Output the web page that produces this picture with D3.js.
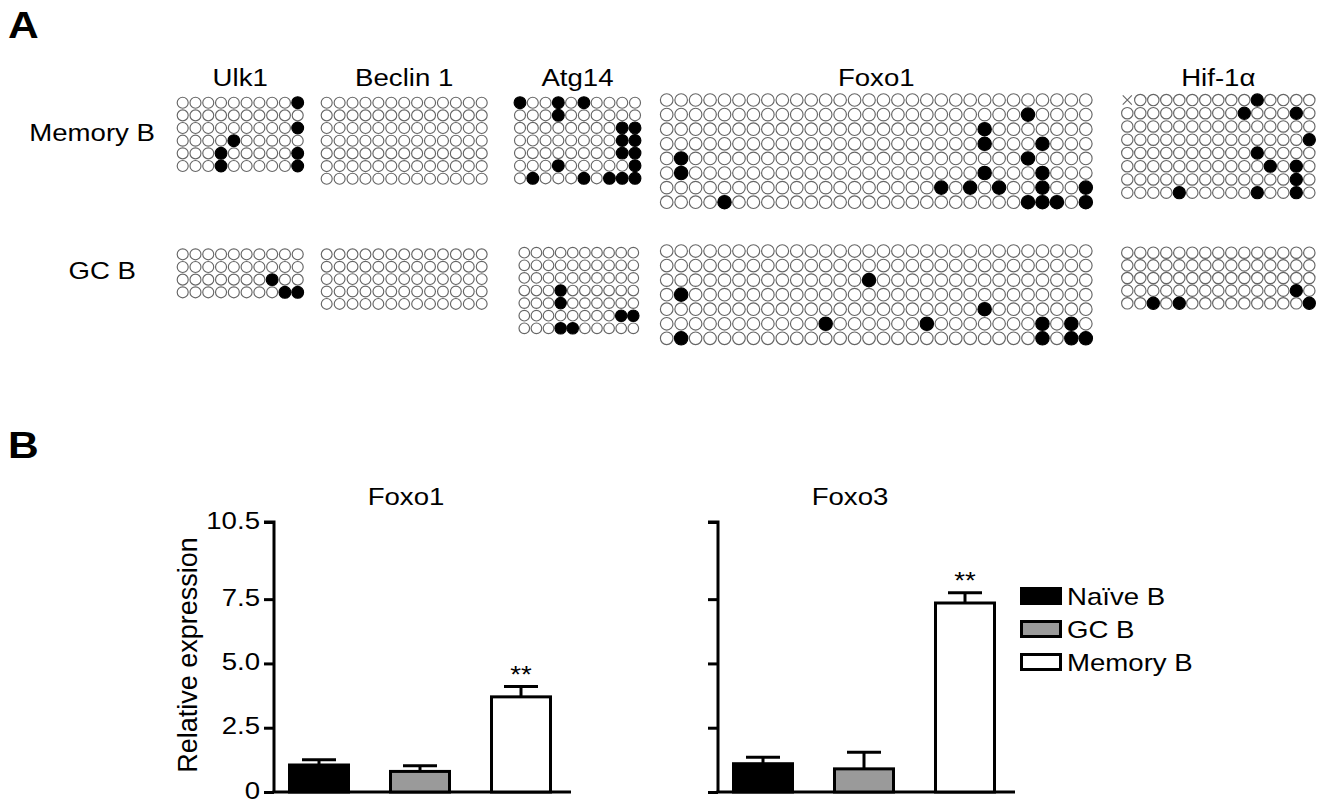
<!DOCTYPE html>
<html><head><meta charset="utf-8">
<script src="https://cdn.jsdelivr.net/npm/d3@7"></script>
<style>body{margin:0;background:#fff}svg{display:block}text{font-family:"Liberation Sans",Arial,sans-serif;fill:#000}</style>
</head><body><svg id="fig" width="1327" height="802"></svg>
<script>
// ---------- Panel A data: methylated CpG (filled) columns per clone row ----------
const genes = ["Ulk1", "Beclin 1", "Atg14", "Foxo1", "Hif-1\u03b1"];
const geneColumns = [10, 13, 10, 30, 15];
const ulk1Memory   = [[10],[],[10],[5],[4,10],[4,10]];
const beclinMemory = [[],[],[],[],[],[],[]];
const atg14Memory  = [[1,4,6],[4],[9,10],[9,10],[9,10],[4,10],[2,6,8,9,10]];
const foxo1Memory  = [[],[26],[23],[23,27],[2,26],[2,23,27],[20,22,24,27,30],[5,26,27,28,30]];
const hifMemory    = [[11],[10,14],[],[15],[11],[12,14],[14],[5,11,14]];
const hifMemoryMissing = [[1,1]]; // [row, col] shown as a cross
const ulk1GC   = [[],[],[8],[9,10]];
const beclinGC = [[],[],[],[],[]];
const atg14GC  = [[],[],[],[4],[4],[9,10],[4,5]];
const foxo1GC  = [[],[],[15],[2],[23],[12,19,27,29],[2,27,29,30]];
const hifGC    = [[],[],[],[14],[3,5,15]];
const rowLabels = ["Memory B", "GC B"];

// ---------- Panel B data ----------
const cellTypes = ["Na\u00efve B", "GC B", "Memory B"];
const foxo1Values = [1.05, 0.8, 3.7];
const foxo1Errors = [0.2, 0.22, 0.4];
const foxo3Values = [1.1, 0.9, 7.35];
const foxo3Errors = [0.25, 0.65, 0.4];
const yTickValues = [0, 2.5, 5.0, 7.5, 10.5];
const yTickLabels = ["0", "2.5", "5.0", "7.5", "10.5"];

// ---------- layout ----------
const svg = d3.select("#fig");
svg.append("rect").attr("width",1327).attr("height",802).attr("fill","#fff");
const SX = 1.15; // the original figure's lettering is horizontally widened

function addText(x, y, str, size, anchor, weight) {
  return svg.append("text")
    .attr("transform", `translate(${x},${y}) scale(${SX},1)`)
    .attr("text-anchor", anchor || "start")
    .attr("font-size", size)
    .attr("font-weight", weight || "normal")
    .text(str);
}

const gridLayout = [
  {g:0, data:ulk1Memory,   x:[182.7,297.7], y0:102.7, dy:12.66, r:5.5},
  {g:1, data:beclinMemory, x:[326.7,481.7], y0:102.7, dy:12.67, r:5.5},
  {g:2, data:atg14Memory,  x:[520,635],     y0:102.7, dy:12.6,  r:5.5},
  {g:3, data:foxo1Memory,  x:[666.7,1085.8],y0:100,   dy:14.6,  r:6.3},
  {g:4, data:hifMemory,    x:[1127.3,1309.3],y0:100,  dy:13.24, r:5.7, missing:hifMemoryMissing},
  {g:0, data:ulk1GC,       x:[182.7,297.7], y0:254.3, dy:12.67, r:5.5},
  {g:1, data:beclinGC,     x:[326.7,481.7], y0:254.3, dy:12.4,  r:5.4},
  {g:2, data:atg14GC,      x:[524.3,633.3], y0:252.7, dy:12.6,  r:5.3},
  {g:3, data:foxo1GC,      x:[666.7,1085.8],y0:251,   dy:14.55, r:6.3},
  {g:4, data:hifGC,        x:[1127.3,1309.3],y0:252.7,dy:12.65, r:5.7}
];

gridLayout.forEach(L => {
  const nCols = geneColumns[L.g], nRows = L.data.length;
  const xs = d3.scaleLinear().domain([1,nCols]).range(L.x);
  const ys = d3.scaleLinear().domain([1,nRows]).range([L.y0, L.y0 + (nRows-1)*L.dy]);
  const cells = [];
  L.data.forEach((filled, ri) => {
    for (let c = 1; c <= nCols; c++) {
      const miss = (L.missing||[]).some(m => m[0]===ri+1 && m[1]===c);
      cells.push({row:ri+1, col:c, filled:filled.includes(c), miss});
    }
  });
  const g = svg.append("g");
  g.selectAll("circle").data(cells.filter(d=>!d.miss)).join("circle")
    .attr("cx", d=>xs(d.col)).attr("cy", d=>ys(d.row))
    .attr("r", d=> d.filled ? L.r+0.4 : L.r)
    .attr("fill", d=> d.filled ? "#000" : "#fff")
    .attr("stroke", d=> d.filled ? "#000" : "#666")
    .attr("stroke-width", 1.15);
  cells.filter(d=>d.miss).forEach(d => {
    const cx = xs(d.col), cy = ys(d.row), s = L.r*0.8;
    g.append("path").attr("d",`M${cx-s},${cy-s}L${cx+s},${cy+s}M${cx-s},${cy+s}L${cx+s},${cy-s}`)
      .attr("stroke","#666").attr("stroke-width",1.1);
  });
  if (L.y0 < 200) addText((L.x[0]+L.x[1])/2, 86, genes[L.g], 24, "middle");
});

addText(155, 141, rowLabels[0], 24, "end");
addText(136, 279, rowLabels[1], 24, "end");

addText(8, 38, "A", 37, "start", "bold");
addText(8, 458, "B", 37, "start", "bold");

// ---------- Panel B ----------
const y = d3.scaleLinear().domain([0,10.5]).range([792,522]);
const fills = ["#000", "#9a9a9a", "#fff"];
const BW = 59;

function barChart(axisX, title, values, errors, showLabels, star) {
  const g = svg.append("g");
  const x = d3.scalePoint().domain(cellTypes).range([axisX+45, axisX+247]);
  const ax = d3.axisLeft(y).tickValues(yTickValues).tickSize(10).tickPadding(4)
    .tickFormat((d,i)=> showLabels ? yTickLabels[i] : "");
  const axg = g.append("g").attr("transform",`translate(${axisX},0)`).call(ax);
  axg.select(".domain").attr("stroke","#000").attr("stroke-width",3).attr("d",`M-10,522H0V792`);
  axg.selectAll(".tick line").attr("stroke","#000").attr("stroke-width",3);
  axg.selectAll(".tick text").attr("font-size",24).attr("fill","#000")
    .attr("x", null).attr("dy", "0.26em").attr("transform", `translate(-14,0) scale(${SX},1)`);
  g.append("line").attr("x1",axisX-1.5).attr("x2",axisX+297).attr("y1",792).attr("y2",792)
    .attr("stroke","#000").attr("stroke-width",3);
  cellTypes.forEach((c,i) => {
    const cx = x(c);
    const top = y(values[i]), capY = y(values[i]+errors[i]);
    g.append("line").attr("x1",cx).attr("x2",cx).attr("y1",top).attr("y2",capY).attr("stroke","#000").attr("stroke-width",3);
    g.append("line").attr("x1",cx-17).attr("x2",cx+17).attr("y1",capY).attr("y2",capY).attr("stroke","#000").attr("stroke-width",3);
    g.append("rect").attr("x",cx-BW/2).attr("y",top).attr("width",BW).attr("height",792-top)
      .attr("fill",fills[i]).attr("stroke","#000").attr("stroke-width",3);
    if (i===2) addText(cx, capY-4, star, 24, "middle");
  });
  addText(axisX+132, 505, title, 24, "middle");
}
barChart(274, "Foxo1", foxo1Values, foxo1Errors, true, "**");
barChart(718, "Foxo3", foxo3Values, foxo3Errors, false, "**");

svg.append("text").attr("transform","translate(197,655) rotate(-90)").attr("text-anchor","middle")
  .attr("font-size",27).text("Relative expression");

// legend
const legY = [596, 629, 662];
cellTypes.forEach((c,i) => {
  svg.append("rect").attr("x",1021.5).attr("y",legY[i]-7.5).attr("width",39).attr("height",15)
    .attr("fill",fills[i]).attr("stroke","#000").attr("stroke-width",3);
  addText(1067, legY[i]+9, c, 24, "start");
});
</script></body></html>
